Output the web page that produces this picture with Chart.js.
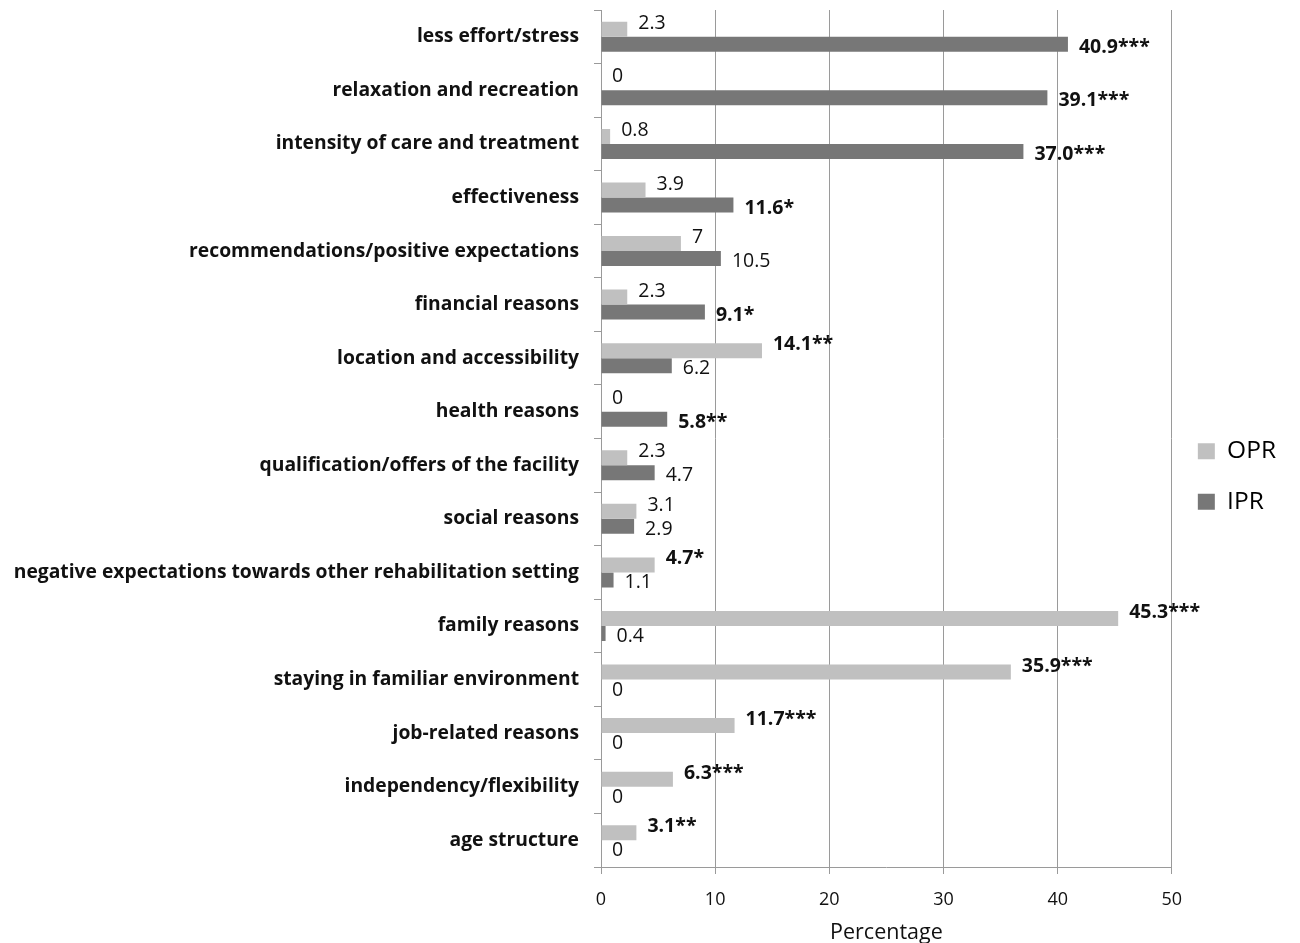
<!DOCTYPE html>
<html>
<head>
<meta charset="utf-8">
<script src="https://cdn.jsdelivr.net/npm/chart.js@4/dist/chart.umd.min.js"></script>
<style>
  html, body { margin: 0; padding: 0; background: #ffffff; }
  #wrap { width: 1300px; height: 943px; }
</style>
</head>
<body>
<div id="wrap"><canvas id="chart"></canvas></div>
<script>
// Reasons for choosing outpatient (OPR) vs inpatient (IPR) rehabilitation
const categories = [
  'less effort/stress',
  'relaxation and recreation',
  'intensity of care and treatment',
  'effectiveness',
  'recommendations/positive expectations',
  'financial reasons',
  'location and accessibility',
  'health reasons',
  'qualification/offers of the facility',
  'social reasons',
  'negative expectations towards other rehabilitation setting',
  'family reasons',
  'staying in familiar environment',
  'job-related reasons',
  'independency/flexibility',
  'age structure'
];

const oprValues = [2.3, 0, 0.8, 3.9, 7, 2.3, 14.1, 0, 2.3, 3.1, 4.7, 45.3, 35.9, 11.7, 6.3, 3.1];
const iprValues = [40.9, 39.1, 37.0, 11.6, 10.5, 9.1, 6.2, 5.8, 4.7, 2.9, 1.1, 0.4, 0, 0, 0, 0];

// significance markers appended to the value labels
const oprStars = ['', '', '', '', '', '', '**', '', '', '', '*', '***', '***', '***', '***', '**'];
const iprStars = ['***', '***', '***', '*', '', '*', '', '**', '', '', '', '', '', '', '', ''];

const xTicks = [0, 10, 20, 30, 40, 50];

const FONT = '"Open Sans", "DejaVu Sans", sans-serif';

function valueLabel(v, stars) {
  return stars ? v.toFixed(1) + stars : String(v);
}

// Draws the value label just past the end of each bar
const valueLabels = {
  id: 'valueLabels',
  afterDatasetsDraw(chart) {
    const ctx = chart.ctx;
    const shifts = [-6, 3];
    ctx.save();
    ctx.textBaseline = 'middle';
    ctx.textAlign = 'left';
    ctx.fillStyle = '#111111';
    chart.data.datasets.forEach((ds, di) => {
      const meta = chart.getDatasetMeta(di);
      meta.data.forEach((bar, i) => {
        const stars = ds.stars[i];
        ctx.font = (stars ? 'bold ' : '') + '19.5px ' + FONT;
        ctx.fillText(valueLabel(ds.data[i], stars), bar.x + 11, bar.y + shifts[di]);
      });
    });
    ctx.restore();
  }
};

new Chart(document.getElementById('chart'), {
  type: 'bar',
  data: {
    labels: categories,
    datasets: [
      { label: 'OPR', data: oprValues, stars: oprStars, backgroundColor: '#c0c0c0' },
      { label: 'IPR', data: iprValues, stars: iprStars, backgroundColor: '#777777' }
    ]
  },
  options: {
    indexAxis: 'y',
    responsive: true,
    maintainAspectRatio: false,
    animation: false,
    categoryPercentage: 0.56,
    barPercentage: 1.0,
    layout: { padding: { top: 10, left: 0, right: 14, bottom: 0 } },
    plugins: {
      tooltip: { enabled: false },
      legend: {
        position: 'right',
        labels: {
          font: { family: FONT, size: 24.5 },
          color: '#000000',
          boxWidth: 17,
          boxHeight: 16,
          padding: 26
        }
      }
    },
    scales: {
      x: {
        min: 0,
        max: 50,
        afterBuildTicks(scale) { scale.ticks = xTicks.map(v => ({ value: v })); },
        afterFit(scale) { scale.height = 76; },
        grid: { color: '#9a9a9a', lineWidth: 1, tickLength: 7, drawTicks: true },
        border: { color: '#9a9a9a' },
        ticks: { font: { family: FONT, size: 18 }, color: '#111111', padding: 15 },
        title: {
          display: true,
          text: 'Percentage',
          font: { family: FONT, size: 21.5 },
          color: '#111111',
          padding: { top: 0, bottom: -3 }
        }
      },
      y: {
        afterFit(scale) {
          scale.width = 601;
          scale.paddingTop = 0;
          scale.paddingBottom = 0;
        },
        grid: { drawOnChartArea: false, offset: true, tickLength: 7, color: '#9a9a9a' },
        border: { color: '#9a9a9a' },
        ticks: { font: { family: FONT, size: 19.3, weight: 'bold' }, color: '#111111', padding: 15 }
      }
    }
  },
  plugins: [valueLabels]
});
</script>
</body>
</html>
